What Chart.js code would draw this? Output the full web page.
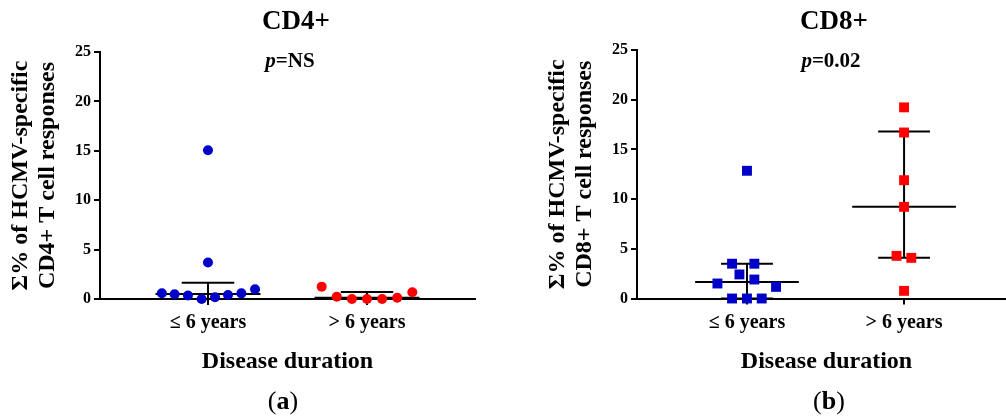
<!DOCTYPE html>
<html>
<head>
<meta charset="utf-8">
<script src="https://cdn.jsdelivr.net/npm/chart.js@4"></script>
<style>
  html, body { margin: 0; padding: 0; background: #fff; }
  #page { position: relative; width: 1006px; height: 419px; overflow: hidden; background: #fff; }
  canvas { position: absolute; top: 0; }
  .lbl { position: absolute; font-family: 'Liberation Serif', serif; line-height: 1; white-space: nowrap;
         transform: translateX(-50%); color: #000; }
  .title { font-size: 27px; font-weight: bold; top: 7px; }
  .pval { font-size: 21px; font-weight: bold; top: 50px; }
  .panel { font-size: 26px; font-weight: normal; top: 388px; }
</style>
</head>
<body>
<div id="page">
  <canvas id="cd4" width="537" height="419" style="left:0"></canvas>
  <canvas id="cd8" width="486" height="419" style="left:537px"></canvas>
  <div class="lbl title" style="left:296px">CD4+</div>
  <div class="lbl pval" style="left:290px"><i>p</i>=NS</div>
  <div class="lbl panel" style="left:283px">(<b>a</b>)</div>
  <div class="lbl title" style="left:834px">CD8+</div>
  <div class="lbl pval" style="left:831px"><i>p</i>=0.02</div>
  <div class="lbl panel" style="left:829px">(<b>b</b>)</div>
</div>
<script>
// categories on the x axis
const durationLabels = ['≤ 6 years', '> 6 years'];

// CD4+ responses (%), one value per patient
const cd4Short = [0.58, 0.48, 0.35, 0.0, 0.17, 0.40, 0.57, 0.98, 15.05, 3.7];
const cd4Long = [1.25, 0.23, 0.0, 0.0, 0.0, 0.13, 0.68];
// median and interquartile range per group
const cd4Median = [0.5, 0.13];
const cd4Upper = [1.65, 0.7];
const cd4Lower = [0, 0];

// CD8+ responses (%)
const cd8Short = [12.85, 3.5, 3.5, 2.42, 1.91, 1.51, 1.17, 0.0, 0.0, 0.0];
const cd8Long = [19.23, 16.7, 11.9, 9.22, 4.29, 4.09, 0.77];
const cd8Median = [1.67, 9.22];
const cd8Upper = [3.5, 16.8];
const cd8Lower = [0, 4.1];

// horizontal scatter of the points inside a column (category units)
const cd4ShortSpread = [-0.29, -0.21, -0.126, -0.04, 0.044, 0.126, 0.21, 0.296, 0, 0];
const cd4LongSpread = [-0.285, -0.19, -0.095, 0, 0.095, 0.19, 0.285];
const cd8ShortSpread = [0, -0.095, 0.047, -0.048, 0.047, -0.188, 0.185, -0.095, 0, 0.094];
const cd8LongSpread = [0, 0, 0, 0, -0.048, 0.046, 0];

const FONT = "'Liberation Serif', serif";
const BLUE = '#0000c8';
const RED = '#ff0000';

Chart.defaults.font.family = FONT;
Chart.defaults.color = '#000';

function groupPoints(values, spread, slot) {
  return values.map(function(v, i) { return { x: slot + spread[i], y: v }; });
}

function lineSet(data) {
  return {
    data: data, showLine: true, borderColor: '#000', borderWidth: 2,
    pointRadius: 0, pointHoverRadius: 0, clip: false, order: 2
  };
}

// median line, IQR caps and the vertical whisker for each column
function summarySets(median, upper, lower) {
  let sets = [];
  median.forEach(function(m, i) {
    const c = i + 1;
    sets.push(lineSet([{ x: c - 0.33, y: m }, { x: c + 0.33, y: m }]));
    sets.push(lineSet([{ x: c - 0.165, y: upper[i] }, { x: c + 0.165, y: upper[i] }]));
    sets.push(lineSet([{ x: c - 0.165, y: lower[i] }, { x: c + 0.165, y: lower[i] }]));
    sets.push(lineSet([{ x: c, y: lower[i] }, { x: c, y: upper[i] }]));
  });
  return sets;
}

function pointSet(data, color, style, radius) {
  return {
    data: data, backgroundColor: color, borderColor: color, borderWidth: 0,
    pointStyle: style, pointRadius: radius, pointHoverRadius: radius, clip: false, order: 1
  };
}

function makePanel(canvasId, cfg) {
  return new Chart(document.getElementById(canvasId), {
    type: 'scatter',
    data: {
      datasets: [
        pointSet(cfg.short, BLUE, cfg.style, cfg.radius),
        pointSet(cfg.long, RED, cfg.style, cfg.radius)
      ].concat(cfg.summary)
    },
    options: {
      responsive: false,
      animation: false,
      devicePixelRatio: 1,
      layout: { padding: cfg.padding },
      plugins: { legend: { display: false }, tooltip: { enabled: false } },
      scales: {
        x: {
          type: 'linear',
          min: cfg.xMin,
          max: cfg.xMax,
          afterBuildTicks: function(s) {
            s.ticks = durationLabels.map(function(_, i) { return { value: i + 1 }; });
          },
          ticks: {
            callback: function(v, i) { return durationLabels[i]; },
            autoSkip: false, maxRotation: 0, padding: 6,
            color: '#000', font: { size: 20, weight: 'bold' }
          },
          grid: { drawOnChartArea: false, tickLength: 6, color: '#000', lineWidth: 2 },
          border: { color: '#000', width: 2 },
          title: {
            display: true, text: 'Disease duration', color: '#000',
            font: { size: 24, weight: 'bold', lineHeight: 1.2 },
            padding: { top: 0, bottom: 43 }
          },
          afterFit: function(s) { s.height = cfg.xHeight; }
        },
        y: {
          min: 0,
          max: 25,
          ticks: { stepSize: 5, padding: 3, color: '#000', font: { size: 16, weight: 'bold' } },
          grid: { drawOnChartArea: false, tickLength: 6, color: '#000', lineWidth: 2 },
          border: { color: '#000', width: 2 },
          title: {
            display: true, text: cfg.yTitle, color: '#000',
            font: { size: 24, weight: 'bold', lineHeight: 1.125 },
            padding: { top: 7.5, bottom: 0 }
          },
          afterFit: function(s) { s.width = 100; }
        }
      }
    }
  });
}

makePanel('cd4', {
  short: groupPoints(cd4Short, cd4ShortSpread, 1),
  long: groupPoints(cd4Long, cd4LongSpread, 2),
  summary: summarySets(cd4Median, cd4Upper, cd4Lower),
  style: 'circle', radius: 5,
  xMin: 0.321, xMax: 2.679, xHeight: 120,
  padding: { left: 0, top: 52, right: 62, bottom: 0 },
  yTitle: ['Σ% of HCMV-specific', 'CD4+ T cell responses']
});

makePanel('cd8', {
  short: groupPoints(cd8Short, cd8ShortSpread, 1),
  long: groupPoints(cd8Long, cd8LongSpread, 2),
  summary: summarySets(cd8Median, cd8Upper, cd8Lower),
  style: 'rect', radius: 7,
  xMin: 0.3, xMax: 2.7125, xHeight: 120.5,
  padding: { left: 0, top: 50, right: 0, bottom: 0 },
  yTitle: ['Σ% of HCMV-specific', 'CD8+ T cell responses']
});
</script>
</body>
</html>
